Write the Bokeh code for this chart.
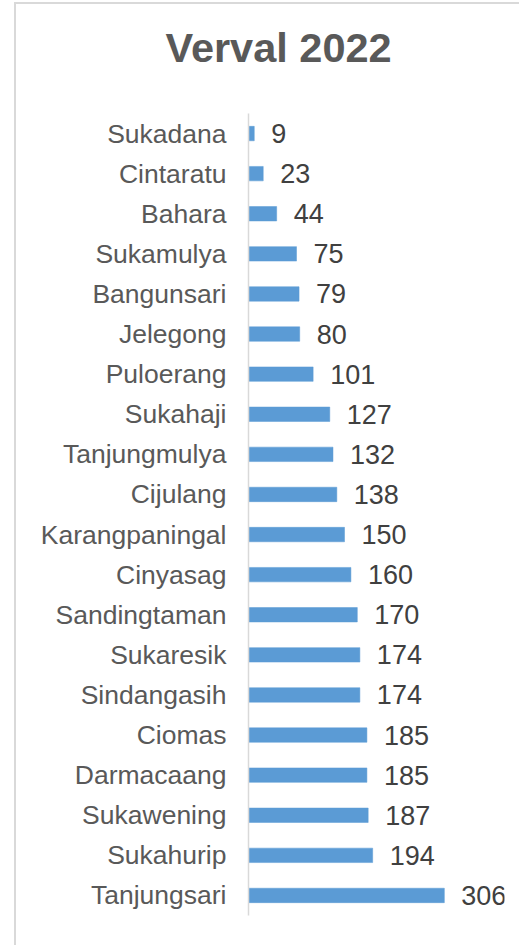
from bokeh.plotting import figure
from bokeh.models import ColumnDataSource, FactorRange, Range1d, Title
from bokeh.embed import file_html
from bokeh.resources import INLINE

# Data (top to bottom as in the chart)
villages = ["Sukadana", "Cintaratu", "Bahara", "Sukamulya", "Bangunsari", "Jelegong",
            "Puloerang", "Sukahaji", "Tanjungmulya", "Cijulang", "Karangpaningal",
            "Cinyasag", "Sandingtaman", "Sukaresik", "Sindangasih", "Ciomas",
            "Darmacaang", "Sukawening", "Sukahurip", "Tanjungsari"]
counts = [9, 23, 44, 75, 79, 80, 101, 127, 132, 138, 150, 160, 170, 174, 174, 185,
          185, 187, 194, 306]
title_text = "Verval 2022"

OX, OY = 16, 4          # where the bordered figure starts on the page
W, H = 521 - OX, 947 - OY
LEFT, RIGHT, TOP, BOTTOM = 248 - OX, 521 - 504, 113 - OY, 947 - 915
XMAX = 400

factors = list(reversed(villages))
src = ColumnDataSource(dict(name=villages, val=counts, lab=[str(c) for c in counts]))

p = figure(width=W, height=H, output_backend="svg", toolbar_location=None,
           y_range=FactorRange(factors=factors, range_padding=0),
           x_range=Range1d(0, XMAX),
           min_border_left=LEFT, min_border_right=RIGHT,
           min_border_top=TOP, min_border_bottom=BOTTOM,
           title=title_text)
p.styles = {"border-left": "2px solid #D9D9D9", "border-top": "2px solid #D9D9D9",
            "margin-left": "14px", "margin-top": "2px"}
p.outline_line_color = None
p.background_fill_color = "white"
p.border_fill_color = "white"
p.xgrid.visible = False
p.ygrid.visible = False
p.xaxis.visible = False

p.title.align = "left"
p.title.vertical_align = "top"
p.title.offset = 165 - 248
p.title.text_font = "Liberation Sans"
p.title.text_font_size = "41.5px"
p.title.text_font_style = "bold"
p.title.text_color = "#595959"
p.title.standoff = 36

# blank spacer between the title and the plot area
p.add_layout(Title(text=" ", text_font_size="16px", standoff=4,
                   text_color="white"), "above")

ya = p.yaxis[0]
ya.axis_line_color = "#D9D9D9"
ya.axis_line_width = 1.5
ya.major_tick_line_color = None
ya.minor_tick_line_color = None
ya.major_tick_in = 0
ya.major_tick_out = 0
ya.major_label_standoff = 22
ya.major_label_text_font = "Liberation Sans"
ya.major_label_text_font_size = "26.5px"
ya.major_label_text_color = "#595959"

p.hbar(y="name", right="val", left=0, height=0.36, source=src,
       fill_color="#5B9BD5", line_color="#5B9BD5", line_width=0.5)

p.text(x="val", y="name", text="lab", source=src, x_offset=17,
       text_align="left", text_baseline="middle",
       text_font={"value": "Liberation Sans"}, text_font_size={"value": "27px"},
       text_color="#404040")

open("out.html", "w").write(file_html(p, INLINE))
